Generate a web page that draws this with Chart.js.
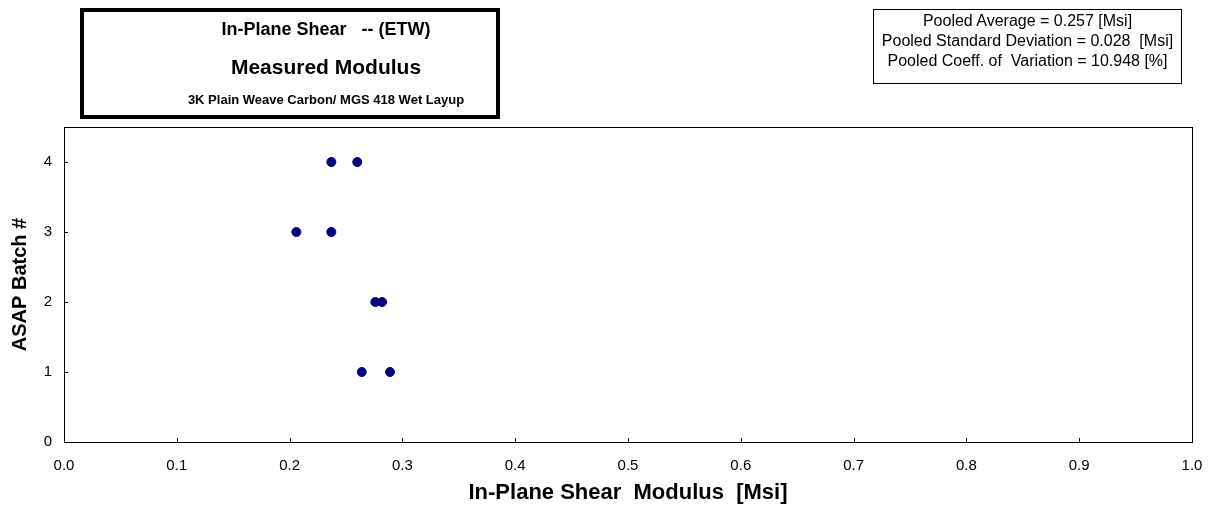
<!DOCTYPE html>
<html>
<head>
<meta charset="utf-8">
<script src="https://cdn.jsdelivr.net/npm/chart.js@4/dist/chart.umd.min.js"></script>
<style>
  html, body { margin: 0; padding: 0; background: #fff; }
  #wrap { position: relative; width: 1209px; height: 521px; font-family: "Liberation Sans", Arial, sans-serif; }
  #c { position: absolute; left: 0; top: 0; }
  #titleBox { position: absolute; left: 80px; top: 8px; width: 412px; height: 103px; border: 4px solid #000; font-weight: bold; color: #000; background: #fff; }
  #titleBox div { position: absolute; width: 400px; left: 42px; text-align: center; white-space: pre; }
  #titleBox .l1 { top: 6px; font-size: 18px; line-height: 22px; }
  #titleBox .l2 { top: 43px; font-size: 21px; line-height: 24px; }
  #titleBox .l3 { top: 80px; font-size: 13px; line-height: 16px; }
  #stats { position: absolute; left: 873px; top: 9px; width: 307px; height: 72px; border: 1px solid #000; text-align: center; font-size: 16px; line-height: 20px; color: #000; padding-top: 1px; white-space: pre; }
</style>
</head>
<body>
<div id="wrap">
  <canvas id="c" width="1209" height="521"></canvas>
  <div id="titleBox">
    <div class="l1">In-Plane Shear   -- (ETW)</div>
    <div class="l2">Measured Modulus</div>
    <div class="l3">3K Plain Weave Carbon/ MGS 418 Wet Layup</div>
  </div>
  <div id="stats"><div>Pooled Average = 0.257 [Msi]</div><div>Pooled Standard Deviation = 0.028  [Msi]</div><div>Pooled Coeff. of  Variation = 10.948 [%]</div></div>
</div>
<script>
const batches = [4, 4, 3, 3, 2, 2, 1, 1];
const modulus = [0.237, 0.260, 0.206, 0.237, 0.276, 0.282, 0.264, 0.289];
const xTicks = [0.0, 0.1, 0.2, 0.3, 0.4, 0.5, 0.6, 0.7, 0.8, 0.9, 1.0];
const yTicks = [0, 1, 2, 3, 4];
const xTitle = "In-Plane Shear  Modulus  [Msi]";
const yTitle = "ASAP Batch #";

const points = modulus.map((v, i) => ({ x: v, y: batches[i] }));

const frame = {
  id: 'frame',
  afterDraw(chart) {
    const { ctx, chartArea: a } = chart;
    const xs = chart.scales.x, ys = chart.scales.y;
    ctx.save();
    ctx.strokeStyle = '#000';
    ctx.lineWidth = 1;
    ctx.strokeRect(Math.round(a.left) + 0.5, Math.round(a.top) + 0.5, Math.round(a.right - a.left), Math.round(a.bottom - a.top));
    ctx.beginPath();
    xTicks.forEach(v => {
      const px = Math.round(xs.getPixelForValue(v)) + 0.5;
      ctx.moveTo(px, a.bottom); ctx.lineTo(px, a.bottom - 4);
    });
    yTicks.forEach(v => {
      const py = Math.round(ys.getPixelForValue(v)) + 0.5;
      ctx.moveTo(a.left, py); ctx.lineTo(a.left + 4, py);
    });
    ctx.stroke();
    ctx.restore();
  }
};

new Chart(document.getElementById('c'), {
  type: 'scatter',
  data: {
    datasets: [{
      data: points,
      backgroundColor: '#000080',
      borderColor: '#000080',
      pointRadius: 4.5,
      pointHoverRadius: 4.5
    }]
  },
  options: {
    responsive: false,
    animation: false,
    events: [],
    layout: { padding: { left: 0, right: 17, top: 127, bottom: 0 } },
    plugins: { legend: { display: false }, tooltip: { enabled: false } },
    scales: {
      x: {
        type: 'linear', min: 0, max: 1,
        afterBuildTicks: s => { s.ticks = xTicks.map(v => ({ value: v })); },
        afterFit: s => { s.height = 79; s.paddingLeft = 0; s.paddingRight = 0; },
        grid: { display: false, drawTicks: true, tickLength: 5, color: '#000' },
        border: { display: true, color: '#000', width: 1 },
        ticks: { color: '#000', font: { family: 'Liberation Sans', size: 15 }, padding: 10, maxRotation: 0,
                 callback: v => Number(v).toFixed(1) },
        title: { display: true, text: xTitle, color: '#000', font: { family: 'Liberation Sans', size: 22, weight: 'bold' }, padding: { top: 0, bottom: 15 } }
      },
      y: {
        type: 'linear', min: 0, max: 4.5,
        afterBuildTicks: s => { s.ticks = yTicks.map(v => ({ value: v })); },
        afterFit: s => { s.width = 64; s.paddingTop = 0; s.paddingBottom = 0; },
        grid: { display: false, drawTicks: true, tickLength: 5, color: '#000' },
        border: { display: true, color: '#000', width: 1 },
        ticks: { color: '#000', font: { family: 'Liberation Sans', size: 15 }, padding: 7,
                 callback: v => String(v) },
        title: { display: true, text: yTitle, color: '#000', font: { family: 'Liberation Sans', size: 20, weight: 'bold' }, padding: { top: 8, bottom: 0 } }
      }
    }
  },
  plugins: [frame]
});
</script>
</body>
</html>
